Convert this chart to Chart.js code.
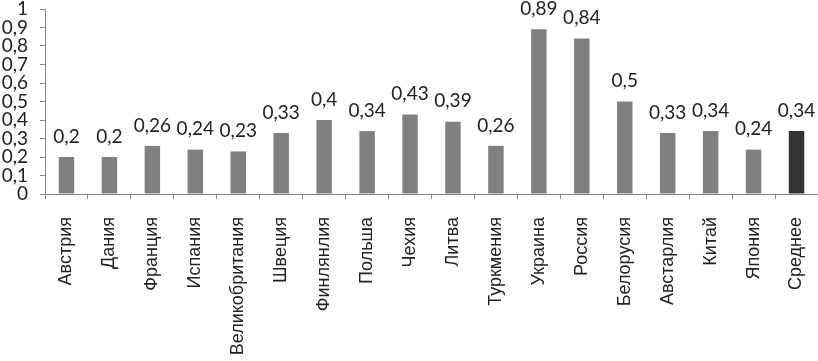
<!DOCTYPE html>
<html><head><meta charset="utf-8">
<script src="https://cdn.jsdelivr.net/npm/chart.js@4/dist/chart.umd.min.js"></script>
<style>html,body{margin:0;padding:0;background:#fff;}#wrap{width:818px;height:361px;}</style>
</head><body><div id="wrap"><canvas id="c" width="818" height="361"></canvas></div>
<script>
const categories = ["Австрия","Дания","Франция","Испания","Великобритания","Швеция","Финлянлия","Польша","Чехия","Литва","Туркмения","Украина","Россия","Белорусия","Австарлия","Китай","Япония","Среднее"];
const values = [0.2,0.2,0.26,0.24,0.23,0.33,0.4,0.34,0.43,0.39,0.26,0.89,0.84,0.5,0.33,0.34,0.24,0.34];
const yTicks = [0,0.1,0.2,0.3,0.4,0.5,0.6,0.7,0.8,0.9,1];
const barColors = values.map((v,i)=> i===values.length-1 ? '#333333' : '#808080');
const fmt = v => String(v).replace('.', ',');

const labelPlugin = {
  id:'valLabels',
  afterDatasetsDraw(chart){
    const ctx = chart.ctx;
    const meta = chart.getDatasetMeta(0);
    ctx.save();
    ctx.font = '19px Lato, "Open Sans", sans-serif';
    ctx.fillStyle = '#222';
    ctx.textAlign = 'center';
    ctx.textBaseline = 'bottom';
    meta.data.forEach((bar,i)=>{
      ctx.fillText(fmt(values[i]), bar.x, bar.y - 11);
    });
    ctx.restore();
  }
};

new Chart(document.getElementById('c'), {
  type:'bar',
  data:{labels:categories, datasets:[{data:values, backgroundColor:barColors, barPercentage:0.36, categoryPercentage:1}]},
  options:{
    responsive:false, animation:false,
    layout:{padding:{top:9,right:0,left:0,bottom:0}},
    plugins:{legend:{display:false}, tooltip:{enabled:false}},
    scales:{
      x:{
        grid:{display:true, offset:true, drawOnChartArea:false, tickLength:5, color:'#888'},
        border:{color:'#888'},
        ticks:{maxRotation:90, minRotation:90, color:'#222', font:{family:'"Liberation Sans", Arial, sans-serif', size:18}, padding:18},
        afterFit(s){ s.height = 167; s.paddingLeft = 0; s.paddingRight = 0; s.paddingTop = 0; s.paddingBottom = 0; }
      },
      y:{
        min:0, max:1,
        afterBuildTicks(s){ s.ticks = yTicks.map(v=>({value:v})); },
        grid:{display:true, drawOnChartArea:false, tickLength:5, color:'#888'},
        border:{color:'#888'},
        ticks:{autoSkip:false, color:'#222', font:{family:'Lato, "Open Sans", sans-serif', size:19}, padding:12, callback:v=>fmt(v)},
        afterFit(s){ s.width = 45; s.paddingTop = 0; s.paddingBottom = 0; s.paddingLeft = 0; s.paddingRight = 0; }
      }
    }
  },
  plugins:[labelPlugin]
});
</script></body></html>
